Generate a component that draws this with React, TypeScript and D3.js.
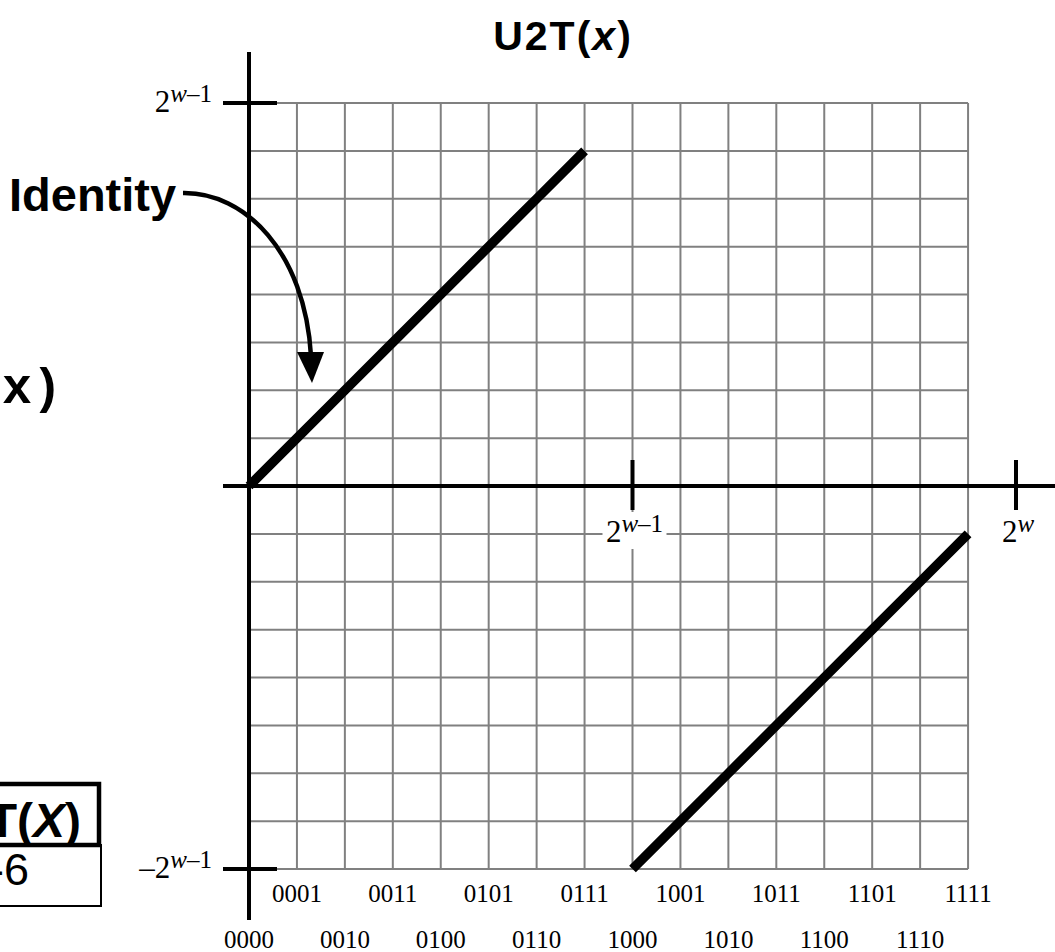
import { useEffect, useRef } from 'react'
import * as d3 from 'd3'

// bit patterns along the x axis and their two's-complement value
const bitCodes = [
  '0000', '0001', '0010', '0011', '0100', '0101', '0110', '0111',
  '1000', '1001', '1010', '1011', '1100', '1101', '1110', '1111',
]
const u2tValues = [0, 1, 2, 3, 4, 5, 6, 7, -8, -7, -6, -5, -4, -3, -2, -1]

const yTickValues = [8, -8]
const yTickLabels = ['', '–']
const xTickValues = [8, 16]
const xTickSups = ['–1', '']

const width = 1055
const height = 952

const sans = '"Liberation Sans", Arial, sans-serif'
const serif = '"Liberation Serif", "Times New Roman", serif'
const mono = '"Liberation Mono", "Courier New", monospace'

export default function App() {
  const svgRef = useRef<SVGSVGElement>(null)

  useEffect(() => {
    if (!svgRef.current) return
    const svg = d3.select(svgRef.current)
    svg.selectAll('*').remove()

    const x = d3.scaleLinear().domain([0, 16]).range([249, 1016])
    const y = d3.scaleLinear().domain([-8, 8]).range([869, 103])

    // grid
    const grid = svg.append('g').attr('stroke', '#808080').attr('stroke-width', 2)
    const gridCols = d3.range(0, bitCodes.length)
    const gridRows = d3.range(-8, 9)
    grid.selectAll('line.v')
      .data(gridCols)
      .enter()
      .append('line')
      .attr('x1', (d) => x(d))
      .attr('x2', (d) => x(d))
      .attr('y1', y(8))
      .attr('y2', y(-8))
    grid.selectAll('line.h')
      .data(gridRows)
      .enter()
      .append('line')
      .attr('x1', x(0))
      .attr('x2', x(bitCodes.length - 1))
      .attr('y1', (d) => y(d))
      .attr('y2', (d) => y(d))

    // axes
    const axes = svg.append('g').attr('stroke', '#000').attr('stroke-width', 4)
    axes.append('line').attr('x1', x(0)).attr('x2', x(0)).attr('y1', 52).attr('y2', 920)
    axes.append('line').attr('x1', 223).attr('x2', width + 5).attr('y1', y(0)).attr('y2', y(0))
    axes.selectAll('line.yt')
      .data(yTickValues)
      .enter()
      .append('line')
      .attr('x1', x(0) - 26)
      .attr('x2', x(0) + 28)
      .attr('y1', (d) => y(d))
      .attr('y2', (d) => y(d))
    axes.selectAll('line.xt')
      .data(xTickValues)
      .enter()
      .append('line')
      .attr('x1', (d) => x(d))
      .attr('x2', (d) => x(d))
      .attr('y1', y(0) - 26)
      .attr('y2', y(0) + 24)

    // y tick labels
    yTickValues.forEach((v, i) => {
      const t = svg.append('text')
        .attr('x', 212)
        .attr('y', y(v) + 9)
        .attr('text-anchor', 'end')
        .attr('font-family', serif)
        .attr('font-size', 31)
      t.append('tspan').text(yTickLabels[i] + '2')
      t.append('tspan').attr('font-size', 25).attr('dy', -10).attr('font-style', 'italic').text('w')
      t.append('tspan').attr('font-size', 25).text('–1')
    })

    // x tick labels (2^(w-1) sits on the grid, so it gets a white backing)
    svg.append('rect')
      .attr('x', x(8) - 30)
      .attr('y', y(0) + 26)
      .attr('width', 64)
      .attr('height', 37)
      .attr('fill', '#fff')
    xTickValues.forEach((v, i) => {
      const t = svg.append('text')
        .attr('x', x(v) + 2)
        .attr('y', y(0) + 56)
        .attr('text-anchor', 'middle')
        .attr('font-family', serif)
        .attr('font-size', 31)
      t.append('tspan').text('2')
      t.append('tspan').attr('font-size', 25).attr('dy', -10).attr('font-style', 'italic').text('w')
      if (xTickSups[i]) t.append('tspan').attr('font-size', 25).text(xTickSups[i])
    })

    // bit pattern labels, odd ones on the upper row
    svg.selectAll('text.code')
      .data(bitCodes)
      .enter()
      .append('text')
      .attr('x', (_, i) => x(i))
      .attr('y', (_, i) => (i % 2 === 1 ? 902 : 948))
      .attr('text-anchor', 'middle')
      .attr('font-family', serif)
      .attr('font-size', 25)
      .text((d) => d)

    // U2T mapping, split where it wraps
    const pts = bitCodes.map((_, i) => ({ i, v: u2tValues[i] }))
    const segments = [pts.filter((d) => d.v >= 0), pts.filter((d) => d.v < 0)]
    const line = d3.line<{ i: number; v: number }>()
      .x((d) => x(d.i))
      .y((d) => y(d.v))
    svg.selectAll('path.seg')
      .data(segments)
      .enter()
      .append('path')
      .attr('d', (d) => line(d))
      .attr('fill', 'none')
      .attr('stroke', '#000')
      .attr('stroke-width', 9.5)
      .attr('stroke-linecap', 'butt')

    // title
    const title = svg.append('text')
      .attr('x', 563)
      .attr('y', 50)
      .attr('text-anchor', 'middle')
      .attr('font-family', sans)
      .attr('font-weight', 'bold')
      .attr('font-size', 41)
      .attr('letter-spacing', 2)
    title.append('tspan').text('U2T(')
    title.append('tspan').attr('font-style', 'italic').text('x')
    title.append('tspan').text(')')

    // Identity annotation
    svg.append('text')
      .attr('x', 9)
      .attr('y', 211)
      .attr('font-family', sans)
      .attr('font-weight', 'bold')
      .attr('font-size', 47)
      .text('Identity')
    svg.append('path')
      .attr('d', 'M183,193 C245,192 305,252 311,356')
      .attr('fill', 'none')
      .attr('stroke', '#000')
      .attr('stroke-width', 4.5)
    svg.append('path')
      .attr('d', 'M297,352 L324,352 L312,383 Z')
      .attr('fill', '#000')

    // cut-off code text on the left
    svg.append('text')
      .attr('x', 2)
      .attr('y', 403)
      .attr('font-family', mono)
      .attr('font-weight', 'bold')
      .attr('font-size', 50)
      .text('x)')

    // table fragment at bottom left
    svg.append('rect')
      .attr('x', -10).attr('y', 845).attr('width', 111).attr('height', 61)
      .attr('fill', '#fff').attr('stroke', '#000').attr('stroke-width', 2)
    svg.append('rect')
      .attr('x', -10).attr('y', 784).attr('width', 109).attr('height', 61)
      .attr('fill', '#fff').attr('stroke', '#000').attr('stroke-width', 4.5)
    const head = svg.append('text')
      .attr('x', 81)
      .attr('y', 837)
      .attr('text-anchor', 'end')
      .attr('font-family', sans)
      .attr('font-weight', 'bold')
      .attr('font-size', 48)
    head.append('tspan').text('T(')
    head.append('tspan').attr('font-style', 'italic').text('X')
    head.append('tspan').text(')')
    svg.append('text')
      .attr('x', 29)
      .attr('y', 885)
      .attr('text-anchor', 'end')
      .attr('font-family', sans)
      .attr('font-size', 45)
      .text('-6')
  }, [])

  return (
    <svg
      ref={svgRef}
      width={width}
      height={height}
      style={{ position: 'absolute', left: 0, top: 0, background: '#fff', display: 'block' }}
    />
  )
}
